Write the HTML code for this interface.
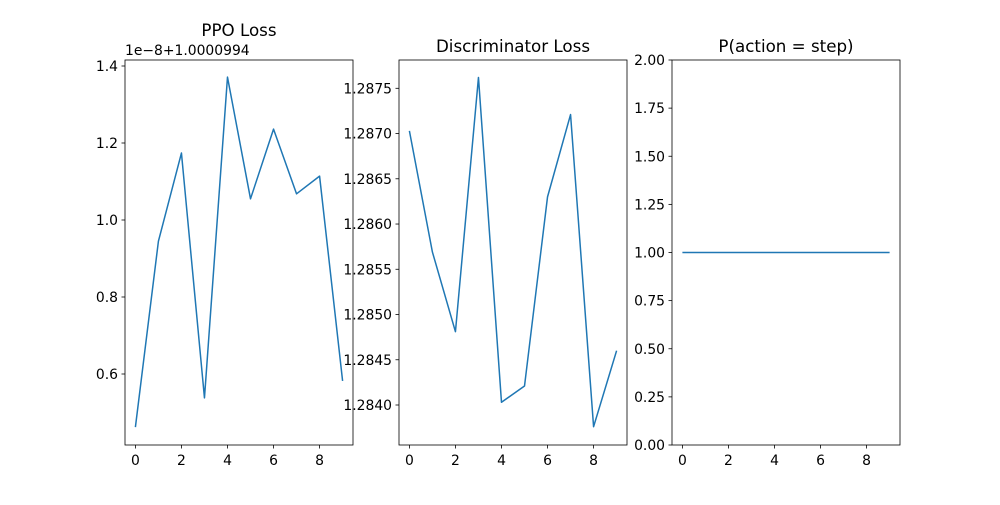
<!DOCTYPE html>
<html><head><meta charset="utf-8"><style>body{margin:0;background:#fff}svg text{font-family:"DejaVu Sans","Liberation Sans",sans-serif;font-size:13.9px;fill:#000}</style></head>
<body>
<svg id="c" width="1000" height="500" xmlns="http://www.w3.org/2000/svg"></svg>
<script>
const steps=[0,1,2,3,4,5,6,7,8,9];
const ppoLoss=[0.462,0.945,1.174,0.538,1.371,1.055,1.236,1.068,1.114,0.582];
const discLoss=[1.28703,1.28569,1.28481,1.28762,1.28403,1.28421,1.28630,1.28721,1.28376,1.28460];
const pStep=[1,1,1,1,1,1,1,1,1,1];
const xTicks=[0,2,4,6,8];
const ppoTicks=[0.6,0.8,1.0,1.2,1.4];
const discTicks=[1.2840,1.2845,1.2850,1.2855,1.2860,1.2865,1.2870,1.2875];
const pTicks=[0,0.25,0.5,0.75,1,1.25,1.5,1.75,2];
const svg=document.getElementById('c');const NS='http://www.w3.org/2000/svg';
function mk(t,a,p){const e=document.createElementNS(NS,t);for(const k in a)e.setAttribute(k,a[k]);(p||svg).appendChild(e);return e;}
const panels=[
 {name:'ppo',x0:125,x1:353,title:'PPO Loss',ty:36,data:ppoLoss,ticks:ppoTicks,dec:1,ya:0.6,yb:1.4,pa:374,pb:66},
 {name:'disc',x0:399,x1:627,title:'Discriminator Loss',ty:52,data:discLoss,ticks:discTicks,dec:4,ya:1.2840,yb:1.2875,pa:405,pb:88.3},
 {name:'p-step',x0:672,x1:900,title:'P(action = step)',ty:52,data:pStep,ticks:pTicks,dec:2,ya:0,yb:2,pa:445,pb:60}];
const axTop=60,axBot=445;
panels.forEach(p=>{
 const g=mk('g',{});
 
 
 const w=p.x1-p.x0, xs=v=>p.x0+10.4+v*(w-20.8)/9, ys=v=>p.pa+(v-p.ya)*(p.pb-p.pa)/(p.yb-p.ya);
 const pts=steps.map((s,i)=>xs(s)+','+ys(p.data[i])).join(' ');
 const l=mk('polyline',{points:pts,fill:'none',stroke:'#1f77b4','stroke-width':1.5,'stroke-linejoin':'round'},g);
 
 
 const r=mk('rect',{x:p.x0,y:axTop,width:w,height:axBot-axTop,fill:'none',stroke:'#000','stroke-width':0.8},g);
 
 
 xTicks.forEach(t=>{const x=xs(t);mk('line',{x1:x,x2:x,y1:axBot,y2:axBot+3.5,stroke:'#000','stroke-width':0.8},g);
  const tx=mk('text',{x:x,y:axBot+20,'text-anchor':'middle'},g);tx.textContent=t;
  
  });
 p.ticks.forEach(t=>{const y=ys(t);mk('line',{x1:p.x0-3.5,x2:p.x0,y1:y,y2:y,stroke:'#000','stroke-width':0.8},g);
  const tx=mk('text',{x:p.x0-7,y:y+5,'text-anchor':'end'},g);tx.textContent=t.toFixed(p.dec);
  
  });
 const tt=mk('text',{x:(p.x0+p.x1)/2,y:p.ty,'text-anchor':'middle',style:'font-size:16.7px'},g);tt.textContent=p.title;
 
 
});
const off=mk('text',{x:125,y:55});off.textContent='1e\u22128+1.0000994';


</script>
</body></html>
